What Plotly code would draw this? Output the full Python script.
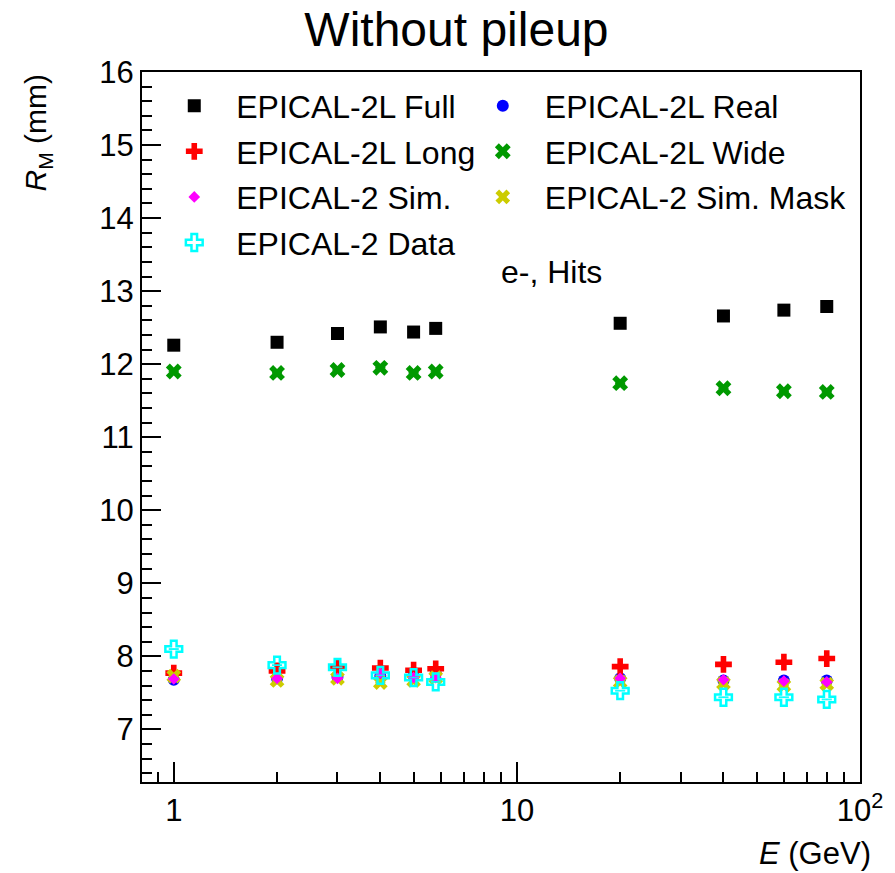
import plotly.graph_objects as go
import math

energy = [1, 2, 3, 4, 5, 5.8, 20, 40, 60, 80]

full = [12.26, 12.30, 12.42, 12.51, 12.44, 12.49, 12.56, 12.66, 12.74, 12.79]
wide = [11.90, 11.88, 11.92, 11.95, 11.88, 11.90, 11.74, 11.67, 11.63, 11.62]
real = [7.68, 7.70, 7.72, 7.73, 7.73, 7.77, 7.70, 7.67, 7.67, 7.67]
long_ = [7.77, 7.80, 7.84, 7.84, 7.81, 7.83, 7.86, 7.89, 7.92, 7.97]
sim_mask = [7.73, 7.67, 7.70, 7.64, 7.67, 7.71, 7.65, 7.63, 7.60, 7.62]
sim = [7.69, 7.70, 7.70, 7.77, 7.71, 7.71, 7.70, 7.68, 7.66, 7.65]
data = [8.10, 7.88, 7.85, 7.74, 7.71, 7.65, 7.53, 7.44, 7.44, 7.41]

x_major = [1, 10, 100]
x_major_text = ["1", "10", "10<sup>2</sup>"]
x_minor = [0.9] + [d * 1 for d in range(2, 10)] + [d * 10 for d in range(2, 10)]

FONT = "Liberation Sans, Arial, sans-serif"
X_RANGE = [math.log10(0.808), 2.0]

series = [
    # name, y, color, symbol, size, legend, rank
    ("EPICAL-2L Full", full, "#000000", "square", 13, "legend", 1),
    ("EPICAL-2L Wide", wide, "#009900", "x", 14, "legend2", 2),
    ("EPICAL-2L Real", real, "#0000ff", "circle", 12, "legend2", 1),
    ("EPICAL-2L Long", long_, "#ff0000", "cross", 14, "legend", 2),
    ("EPICAL-2 Sim. Mask", sim_mask, "#cccc00", "x", 13, "legend2", 3),
    ("EPICAL-2 Sim.", sim, "#ff00ff", "diamond", 9, "legend", 3),
    ("EPICAL-2 Data", data, "#00ffff", "cross-open", 14, "legend", 4),
]

fig = go.Figure()
for name, y, color, sym, size, leg, rank in series:
    fig.add_trace(go.Scatter(
        x=energy, y=y, mode="markers", name=name, legend=leg,
        legendrank=rank, legendgroup=name,
        marker=dict(color=color, symbol=sym, size=size,
                    line=dict(width=2.5 if sym == "cross-open" else 0, color=color)),
        error_y=dict(type="constant", value=0.005, color=color, width=5, thickness=1),
    ))

# invisible trace on overlay axis to carry minor x ticks
fig.add_trace(go.Scatter(x=[1], y=[10], xaxis="x2", mode="markers",
                         marker=dict(opacity=0), showlegend=False, hoverinfo="skip"))

legend_common = dict(font=dict(family=FONT, size=32, color="black"),
                     bgcolor="rgba(0,0,0,0)", borderwidth=0, itemwidth=74,
                     traceorder="grouped", tracegroupgap=1,
                     yanchor="top", xanchor="left")

fig.update_layout(
    width=895, height=873,
    margin=dict(l=142, r=28, t=72, b=91),
    paper_bgcolor="white", plot_bgcolor="white",
    font=dict(family=FONT, size=31, color="black"),
    title=dict(text="Without pileup", x=0.51, xanchor="center", y=0.966,
               yanchor="middle", font=dict(family=FONT, size=48, color="black")),
    xaxis=dict(type="log", range=X_RANGE,
               tickvals=x_major, ticktext=x_major_text,
               ticks="inside", ticklen=20, tickwidth=1.5, tickcolor="black",
               showline=True, linecolor="black", linewidth=2, mirror=True,
               showgrid=False, zeroline=False,
               tickfont=dict(family=FONT, size=31)),
    xaxis2=dict(type="log", range=X_RANGE, overlaying="x", side="bottom",
                tickvals=x_minor, showticklabels=False,
                ticks="inside", ticklen=10, tickwidth=1.5, tickcolor="black",
                showline=False, showgrid=False, zeroline=False),
    yaxis=dict(range=[6.28, 16], dtick=1, tick0=0,
               ticks="inside", ticklen=19, tickwidth=1.5, tickcolor="black",
               showline=True, linecolor="black", linewidth=2, mirror=True,
               showgrid=False, zeroline=False,
               minor=dict(ticks="inside", ticklen=10, dtick=0.2, tickwidth=1.5,
                          tickcolor="black", showgrid=False),
               tickfont=dict(family=FONT, size=31)),
    legend=dict(x=0.0143, y=0.991, **legend_common),
    legend2=dict(x=0.444, y=0.991, **legend_common),
    annotations=[
        dict(text="e-, Hits", xref="paper", yref="paper", x=0.497, y=0.718,
             xanchor="left", yanchor="middle", showarrow=False,
             font=dict(family=FONT, size=32)),
        dict(text="<i>R</i><sub>M</sub> (mm)", xref="paper", yref="paper",
             x=-0.145, y=1.0, xanchor="center", yanchor="top", textangle=-90,
             showarrow=False, font=dict(family=FONT, size=30)),
        dict(text="<i>E</i> (GeV)", xref="paper", yref="paper",
             x=1.018, y=-0.101, xanchor="right", yanchor="middle",
             showarrow=False, font=dict(family=FONT, size=31)),
    ],
)

fig.write_html("out.html")
